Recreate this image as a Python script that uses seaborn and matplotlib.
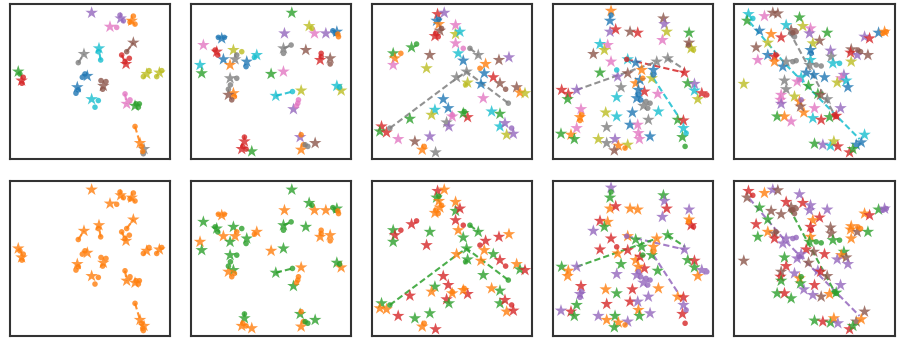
import pandas as pd
import matplotlib.pyplot as plt
import seaborn as sns

# embedding coordinates per panel: (x, y, class, task); y grows downward
p1_stars = [(245,38,4,0),(332,55,4,0),(365,62,1,0),(300,80,6,0),(370,128,5,0),(222,162,7,0),(267,145,9,0),
            (348,192,3,0),(25,215,2,0),(35,242,3,0),(232,228,0,0),(202,262,0,0),(280,258,5,0),(410,222,8,0),
            (448,218,8,0),(245,298,9,0),(350,312,6,0),(375,318,2,0),(390,430,1,0),(402,448,7,0)]
p1_dots = [(330,45,4,0),(340,62,4,0),(370,48,1,0),(375,72,1,0),(360,66,1,0),(320,82,6,0),(350,155,5,0),
           (205,188,7,0),(272,180,9,0),(265,155,9,0),(335,165,3,0),(358,175,3,0),(345,185,3,0),(30,222,2,0),
           (40,232,3,0),(36,250,3,0),(217,232,0,0),(225,222,0,0),(198,280,0,0),(205,270,0,0),(273,242,5,0),
           (288,245,5,0),(278,268,5,0),(400,230,8,0),(440,230,8,0),(455,212,8,0),(417,212,8,0),(265,302,9,0),
           (255,322,9,0),(345,282,6,0),(360,300,6,0),(385,322,2,0),(378,312,2,0),(388,312,2,0),(375,380,1,0),
           (395,440,1,0),(400,462,7,0),(398,455,1,0)]
p1_paths = [([205,222],[188,162],7,0),([272,267],[180,150],9,0),([335,348],[165,192],3,0),
            ([350,370],[155,128],5,0),([345,350],[282,312],6,0),([375,390],[380,430],1,0)]

p2_stars = [(302,38,2,1),(354,78,8,1),(370,100,6,0),(280,100,4,0),(404,100,4,0),(437,95,0,1),(37,135,6,1),
            (77,155,3,1),(92,115,0,0),(97,178,0,0),(127,150,8,1),(132,178,7,0),(117,195,1,1),(167,185,0,1),
            (197,165,9,0),(27,195,9,0),(32,220,2,1),(277,145,7,1),(344,150,5,1),(387,180,3,0),(417,175,5,0),
            (117,235,7,1),(240,222,2,0),(277,215,6,1),(127,280,1,1),(112,285,5,0),(254,288,9,1),(330,272,8,0),
            (307,328,4,1),(437,258,9,1),(450,272,8,0),(160,425,3,1),(152,448,3,0),(182,455,2,0),(327,412,4,1),
            (330,450,1,0),(372,430,5,1)]
p2_dots = [(362,85,8,1),(425,92,0,1),(432,100,0,1),(442,110,1,0),(440,102,1,0),(72,150,3,1),(80,165,3,1),
           (82,112,0,0),(100,112,0,0),(152,155,8,1),(137,165,7,0),(165,200,0,1),(190,172,9,0),(300,135,7,1),
           (277,160,7,1),(390,160,3,0),(390,170,3,0),(417,192,5,0),(137,235,7,1),(112,268,7,1),(118,255,7,1),
           (304,275,9,1),(322,300,6,0),(320,310,6,0),(316,318,6,0),(445,262,9,1),(160,412,3,1),(155,440,3,0),
           (165,448,3,0),(330,405,1,0),(337,435,1,0),(342,435,7,1),(350,440,7,1),(130,290,1,0),(122,300,5,0)]
p2_paths = [([254,304],[288,275],9,1),([277,300],[145,135],7,1)]

p3_stars = [(196,42,3,2),(216,38,4,0),(193,62,0,1),(200,72,1,0),(203,92,5,0),(188,108,3,0),(250,75,6,0),
            (250,102,8,1),(263,95,9,2),(250,130,6,2),(118,142,2,2),(63,160,2,1),(68,175,1,2),(63,195,6,1),
            (173,165,5,1),(163,205,8,2),(258,160,9,0),(273,182,0,1),(318,165,7,1),(340,192,1,2),(336,220,0,0),
            (363,232,3,1),(383,250,5,2),(380,180,5,2),(410,172,4,0),(253,232,7,0),(283,215,7,1),(286,248,8,1),
            (326,252,0,0),(433,262,5,0),(443,278,1,1),(458,280,8,2),(333,295,6,1),(213,298,0,2),(228,325,0,2),
            (240,350,6,0),(223,368,7,2),(230,380,4,1),(286,352,3,2),(273,340,2,0),(188,330,9,1),(178,345,8,0),
            (113,357,2,2),(28,380,3,1),(23,395,2,0),(43,398,3,0),(78,418,6,2),(128,425,5,1),(173,410,4,1),
            (150,450,1,0),(190,458,7,2),(358,335,9,0),(383,342,2,1),(383,380,9,1),(398,370,4,2),(403,405,8,0),
            (423,402,4,2)]
p3_dots = [(86,160,1,2),(133,132,2,2),(190,100,3,0),(198,110,3,0),(273,145,6,2),(293,145,7,1),(408,310,7,1),
           (53,385,7,1),(400,268,5,2),(418,385,4,2),(156,440,1,0),(280,255,8,1),(208,85,5,0),(200,58,0,1),
           (323,205,1,2),(240,345,6,0),(276,335,2,0)]
p3_paths = [([53,253,283,408],[385,235,215,310],7,1),([293,318],[145,165],7,1)]

p4_stars = [(173,32,1,3),(170,62,0,1),(170,95,4,0),(187,88,3,2),(230,95,5,0),(253,98,3,0),(330,55,5,1),
            (333,72,4,3),(340,95,8,2),(327,120,6,3),(407,98,2,3),(407,128,5,0),(413,145,8,2),(140,132,9,2),
            (163,135,6,0),(153,150,8,1),(120,162,5,3),(173,185,6,2),(140,218,2,2),(223,178,9,0),(247,188,0,1),
            (223,220,5,2),(193,230,4,0),(310,185,7,0),(343,175,7,1),(265,210,1,1),(300,210,0,0),(203,262,7,1),
            (247,250,1,0),(273,275,3,2),(270,318,7,3),(295,235,8,1),(403,250,2,1),(423,252,4,2),(423,272,9,1),
            (445,280,3,3),(433,298,8,0),(25,270,3,1),(45,282,3,0),(43,298,2,0),(70,270,4,3),(393,218,3,3),
            (190,292,9,3),(313,282,6,1),(237,338,0,2),(315,335,9,0),(157,338,8,0),(190,350,9,1),(285,360,7,3),
            (83,328,6,2),(80,352,1,3),(70,385,6,1),(160,382,7,2),(230,375,0,2),(253,375,6,3),(373,360,2,0),
            (390,362,3,2),(390,385,9,3),(387,412,2,2),(23,402,2,3),(53,405,1,2),(63,418,2,1),(255,400,6,0),
            (290,410,0,3),(135,418,8,3),(160,430,7,0),(185,418,4,1),(195,438,1,0),(183,452,5,1),(223,435,8,3),
            (258,418,6,1),(260,240,0,2),(250,295,0,3),(255,270,0,0)]
p4_dots = [(190,210,9,2),(220,178,3,3),(460,285,3,3),(278,305,7,3),(290,310,7,3),(283,325,7,3),(255,285,0,3),
           (262,300,0,3),(85,345,1,3),(80,362,1,3),(395,440,2,2),(398,400,9,3),(420,150,8,2),(405,135,5,0),
           (173,45,0,1),(268,235,1,1),(300,225,0,0),(215,445,1,0)]
p4_paths = [([220,393],[178,218],3,3),([70,310],[270,185],7,1),([343,395],[175,210],7,1),
            ([300,375],[235,350],9,3)]

p5_stars = [(42,42,9,2),(38,62,2,4),(90,48,6,0),(115,38,5,3),(130,40,5,4),(195,52,2,3),(205,78,8,2),
            (228,85,6,3),(170,90,5,4),(155,75,9,2),(225,100,4,3),(75,92,0,1),(110,102,1,4),(140,112,3,4),
            (100,128,8,1),(278,98,2,3),(255,122,5,2),(235,130,8,0),(390,110,4,0),(405,115,3,2),(432,98,0,1),
            (450,95,1,3),(65,142,5,2),(70,180,6,1),(100,165,0,0),(120,170,3,4),(120,185,1,2),(145,200,0,3),
            (155,185,7,3),(228,150,0,2),(228,180,9,0),(225,195,7,1),(288,152,4,4),(290,170,7,4),(295,190,9,1),
            (350,148,5,0),(368,165,4,4),(348,158,3,0),(400,165,5,1),(350,185,8,0),(215,218,0,2),(238,225,0,4),
            (270,232,0,2),(188,245,6,3),(150,242,7,1),(155,268,7,2),(200,232,9,3),(28,252,8,4),(328,225,4,1),
            (320,235,6,0),(335,242,9,4),(308,248,8,3),(340,262,0,3),(222,258,2,4),(250,282,2,3),(258,285,5,2),
            (278,298,7,4),(140,285,6,4),(138,300,6,2),(140,312,4,1),(180,290,8,3),(195,305,1,0),(208,338,1,3),
            (198,320,5,1),(240,325,6,2),(318,325,4,3),(305,348,3,1),(285,352,2,0),(128,350,2,1),(150,350,1,2),
            (170,365,6,1),(235,355,9,3),(260,360,3,4),(390,405,9,4),(365,435,0,4),(240,432,2,1),(265,435,4,2),
            (288,438,9,1),(298,425,8,0),(310,440,3,3),(345,458,3,2),(355,448,2,1),(380,428,0,0)]
p5_dots = [(55,55,9,2),(180,110,7,4),(170,100,7,4),(185,95,5,4),(175,98,5,4),(175,185,7,3),(185,182,7,3),
           (245,195,7,1),(260,198,7,1),(315,190,9,1),(125,165,3,4),(230,160,0,2),(195,240,6,3),(200,300,4,1),
           (305,350,3,1),(300,345,3,1),(370,150,5,0),(378,155,5,0),(455,95,1,3),(445,100,1,3)]
p5_paths = [([45,155,375],[65,195,418],9,3),([165,300],[95,345],7,1)]

panels = [(p1_stars, p1_dots, p1_paths), (p2_stars, p2_dots, p2_paths), (p3_stars, p3_dots, p3_paths),
          (p4_stars, p4_dots, p4_paths), (p5_stars, p5_dots, p5_paths)]

sns.set_style("white")
pal = sns.color_palette("tab10")
class_pal = {i: pal[i] for i in range(10)}
task_pal = {i: pal[i + 1] for i in range(5)}

fig, axes = plt.subplots(2, 5, figsize=(9, 3.47), dpi=100)
plt.subplots_adjust(left=0.011, right=0.994, top=0.988, bottom=0.032, wspace=0.131, hspace=0.142)

for col, (stars, dots, paths) in enumerate(panels):
    df = pd.DataFrame(stars + dots, columns=['x', 'y', 'cls', 'task'])
    df['kind'] = ['star'] * len(stars) + ['dot'] * len(dots)
    for row in range(2):
        ax = axes[row, col]
        key, cmap = ('cls', class_pal) if row == 0 else ('task', task_pal)
        for xs, ys, c, t in paths:
            color = cmap[c if row == 0 else t]
            ax.plot(xs, ys, ls='--', lw=1.5, color=color, alpha=0.85, dashes=(3, 1.5), zorder=1)
        sns.scatterplot(data=df, x='x', y='y', hue=key, palette=cmap, style='kind',
                        markers={'star': '*', 'dot': 'o'}, size='kind', sizes={'star': 90, 'dot': 16},
                        linewidth=0, alpha=0.8, legend=False, ax=ax, zorder=2)
        ax.set_xlim(0, 480)
        ax.set_ylim(478, 12)
        ax.set_xticks([])
        ax.set_yticks([])
        ax.set_xlabel('')
        ax.set_ylabel('')
        for s in ax.spines.values():
            s.set_linewidth(1.5)
            s.set_color('#333333')

plt.savefig('out.png')
